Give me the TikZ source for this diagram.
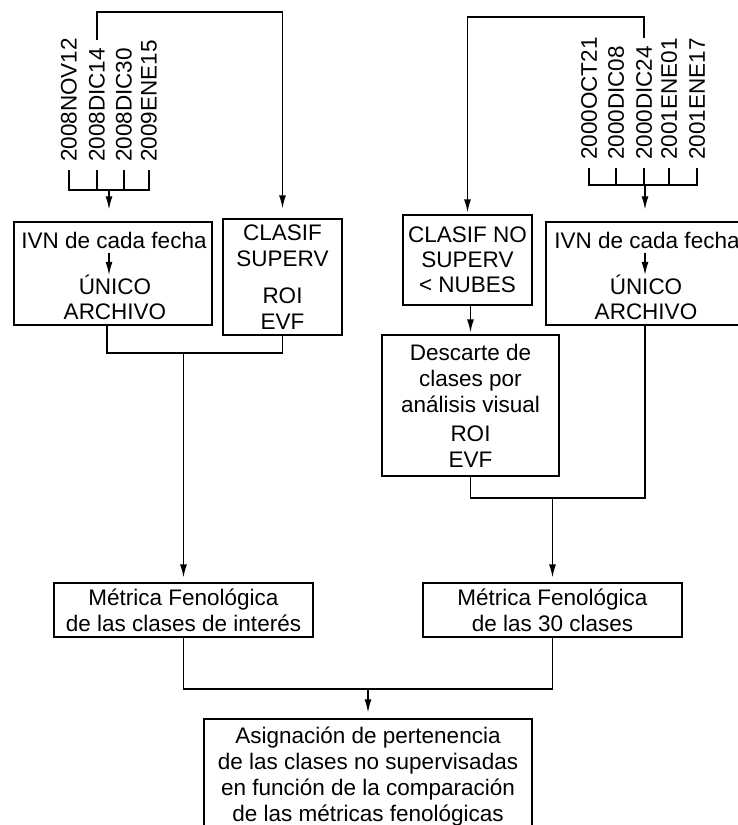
\documentclass[tikz,border=0pt]{standalone}
\usepackage{fontspec}
\setmainfont{Liberation Sans}
\usetikzlibrary{arrows.meta,positioning,calc}
\tikzset{caja/.style={draw,line width=1.3pt,inner sep=2pt,align=center,
font=\fontsize{22.5}{26}\selectfont},
texto/.style={inner sep=0pt,align=center,font=\fontsize{22.5}{25}\selectfont},
fecha/.style={rotate=90,anchor=west,inner sep=0pt,inner xsep=8pt,
font=\fontsize{22.5}{26}\selectfont},
linea/.style={line width=1.3pt},
flecha/.style={line width=1.3pt,-{Latex[length=13pt,width=7pt]}}}

\begin{document}
\begin{tikzpicture}[x=1pt,y=-1pt]
	\useasboundingbox (0,0) rectangle (738,825);

	% fechas
	\node[fecha] (f1) at (69,170) {2008NOV12};
	\node[fecha] (f2) at (97,170) {2008DIC14};
	\node[fecha] (f3) at (124,170) {2008DIC30};
	\node[fecha] (f4) at (149,170) {2009ENE15};
	\node[fecha] (g1) at (589,168) {2000OCT21};
	\node[fecha] (g2) at (616,168) {2000DIC08};
	\node[fecha] (g3) at (644,168) {2000DIC24};
	\node[fecha] (g4) at (669,168) {2001ENE01};
	\node[fecha] (g5) at (697,168) {2001ENE17};

	% cajas
	\node[caja,minimum width=198pt,minimum height=103pt] (ivnL) at (113,273.5) {};
	\node[texto] (ivnLa) at (114,240) {IVN de cada fecha};
	\node[texto] (unicoL) at (115,297.5) {ÚNICO\\ARCHIVO};
	\node[caja,minimum width=119pt,minimum height=116pt] (clasS) at (282.5,277)
		{CLASIF\\SUPERV\\[11pt]ROI\\EVF};
	\node[caja,minimum width=129pt,minimum height=90pt] (clasN) at (467.5,260)
		{CLASIF NO\\[-1pt]SUPERV\\[-1pt]< NUBES};
	\node[caja,minimum width=198pt,minimum height=103pt] (ivnR) at (645,273.5) {};
	\node[texto] (ivnRa) at (647,240) {IVN de cada fecha};
	\node[texto] (unicoR) at (646,297.5) {ÚNICO\\ARCHIVO};
	\node[caja,minimum width=177pt,minimum height=141pt] (desc) at (470.5,405.5)
		{Descarte de\\clases por\\análisis visual\\[3pt]ROI\\EVF};
	\node[caja,minimum width=259pt,minimum height=54pt] (metL) at (183.5,610)
		{Métrica Fenológica\\de las clases de interés};
	\node[caja,minimum width=259pt,minimum height=54pt] (metR) at (552.5,610)
		{Métrica Fenológica\\de las 30 clases};
	\node[caja,minimum width=328pt,minimum height=115pt] (fin) at (368,776.5)
		{Asignación de pertenencia\\de las clases no supervisadas\\en función de la comparación\\de las métricas fenológicas};

	% fechas -> IVN
	\coordinate (busL) at (109,190);
	\coordinate (busR) at (645,185);
	\draw[linea] (f1.west) |- (f4.west |- busL) -- (f4.west);
	\draw[linea] (f2.west) -- (f2.west |- busL);
	\draw[linea] (f3.west) -- (f3.west |- busL);
	\draw[flecha,shorten >=12pt] (busL) -- (busL |- ivnL.north);
	\draw[linea] (g1.west) |- (g5.west |- busR) -- (g5.west);
	\draw[linea] (g2.west) -- (g2.west |- busR);
	\draw[linea] (g3.west) -- (g3.west |- busR);
	\draw[linea] (g4.west) -- (g4.west |- busR);
	\draw[flecha,shorten >=12pt] (busR) -- (busR |- ivnR.north);
	\draw[flecha,shorten <=5pt] (ivnLa.south -| busL) -- (unicoL.north -| busL);
	\draw[flecha,shorten <=5pt] (ivnRa.south -| busR) -- (unicoR.north -| busR);

	% fechas -> clasificaciones
	\coordinate (railL) at (0,12);
	\coordinate (railR) at (0,17);
	\draw[flecha,shorten >=10pt] (f2.east) -- (f2.east |- railL) -| (clasS.north);
	\draw[flecha,shorten >=2pt] (g3.east) -- (g3.east |- railR) -| (clasN.north);
	\draw[flecha,shorten >=2pt] (desc.north |- clasN.south) -- (desc.north);

	% uniones
	\coordinate (sL) at ([xshift=-6pt]ivnL.south);
	\coordinate (jL) at (184,353);
	\coordinate (jR) at (552,498);
	\coordinate (jB) at (368,689);
	\draw[linea] (sL) |- (clasS.south |- jL) -- (clasS.south);
	\draw[flecha,shorten >=5pt] (metL.north |- jL) -- (metL.north);
	\draw[linea] (desc.south) |- (ivnR.south |- jR) -- (ivnR.south);
	\draw[flecha,shorten >=5pt] (metR.north |- jR) -- (metR.north);
	\draw[linea] (metL.south) |- (metR.south |- jB) -- (metR.south);
	\draw[flecha,shorten >=6pt] (fin.north |- jB) -- (fin.north);
\end{tikzpicture}
\end{document}
